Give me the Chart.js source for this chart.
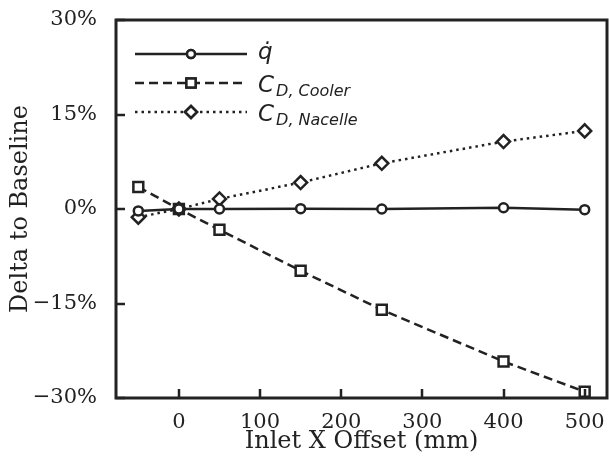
<!DOCTYPE html>
<html>
<head>
<meta charset="utf-8">
<script src="https://cdn.jsdelivr.net/npm/chart.js@4.4.0/dist/chart.umd.min.js"></script>
<style>
  html, body { margin: 0; padding: 0; background: #fff; }
</style>
</head>
<body>
<canvas id="chart" width="609" height="456"></canvas>
<script>
// inlet x offset (mm)
const offsets = [-50, 0, 50, 150, 250, 400, 500];

// delta to baseline (%)
const qDot = [-0.3, 0, 0, 0.05, 0, 0.2, -0.1];
const cdCooler = [3.5, 0, -3.3, -9.8, -16.0, -24.2, -29.0];
const cdNacelle = [-1.3, 0, 1.6, 4.2, 7.25, 10.7, 12.4];

const xTicks = [0, 100, 200, 300, 400, 500];
const yTicks = [-30, -15, 0, 15, 30];

const ink = "#222";
const serif = "'DejaVu Serif', serif";

function series(label, sub, values, dash, style, radius) {
  return {
    label: label,
    sub: sub,
    data: offsets.map((x, i) => ({ x: x, y: values[i] })),
    borderColor: ink,
    borderWidth: 2.5,
    borderDash: dash,
    pointStyle: style,
    pointRadius: radius,
    pointBorderWidth: 2.5,
    pointBorderColor: ink,
    pointBackgroundColor: "#fff",
    tension: 0
  };
}

// frame + inward ticks, matplotlib style
const framePlugin = {
  id: "frame",
  afterDraw(chart) {
    const ctx = chart.ctx;
    const a = chart.chartArea;
    const xs = chart.scales.x;
    const ys = chart.scales.y;
    ctx.save();
    ctx.strokeStyle = ink;
    ctx.lineWidth = 2.5;
    ctx.beginPath();
    xTicks.forEach(v => {
      const px = Math.round(xs.getPixelForValue(v));
      ctx.moveTo(px, a.bottom);
      ctx.lineTo(px, a.bottom - 9);
    });
    yTicks.forEach(v => {
      const py = Math.round(ys.getPixelForValue(v));
      ctx.moveTo(a.left, py);
      ctx.lineTo(a.left + 9, py);
    });
    ctx.stroke();
    ctx.lineWidth = 3;
    ctx.strokeRect(a.left, a.top, a.right - a.left, a.bottom - a.top);
    ctx.restore();
  }
};

// legend with subscripts
const legendPlugin = {
  id: "mathLegend",
  afterDraw(chart) {
    const ctx = chart.ctx;
    const a = chart.chartArea;
    const rows = [34, 63, 92];
    chart.data.datasets.forEach((ds, i) => {
      const y = a.top + rows[i];
      const x0 = a.left + 19, x1 = a.left + 131;
      ctx.save();
      ctx.strokeStyle = ink;
      ctx.lineWidth = ds.borderWidth;
      ctx.setLineDash(ds.borderDash);
      ctx.beginPath();
      ctx.moveTo(x0, y);
      ctx.lineTo(x1, y);
      ctx.stroke();
      ctx.setLineDash([]);
      ctx.fillStyle = "#fff";
      Chart.helpers.drawPoint(ctx, {
        pointStyle: ds.pointStyle, radius: ds.pointRadius - 0.5,
        borderWidth: ds.pointBorderWidth, rotation: 0
      }, (x0 + x1) / 2, y);
      ctx.fill();
      ctx.stroke();
      ctx.fillStyle = ink;
      ctx.textBaseline = "alphabetic";
      ctx.font = "italic 23px 'DejaVu Sans'";
      const tx = a.left + 142;
      if (ds.sub) {
        ctx.fillText(ds.label, tx, y + 9);
        const w = ctx.measureText(ds.label).width;
        ctx.font = "italic 16px 'DejaVu Sans'";
        ctx.fillText(ds.sub, tx + w + 2, y + 13);
      } else {
        ctx.fillText(ds.label, tx, y + 5);
      }
      ctx.restore();
    });
  }
};

new Chart(document.getElementById("chart"), {
  type: "line",
  data: {
    datasets: [
      series("q\u0307", "", qDot, [], "circle", 4.5),
      series("C", "D, Cooler", cdCooler, [9, 5], "rect", 7),
      series("C", "D, Nacelle", cdNacelle, [2.5, 4], "rectRot", 6.5)
    ]
  },
  options: {
    responsive: false,
    animation: false,
    layout: { autoPadding: false, padding: { top: 20, right: 2, left: 0, bottom: 0 } },
    plugins: { legend: { display: false }, tooltip: { enabled: false } },
    scales: {
      x: {
        type: "linear",
        min: -77.5,
        max: 527.5,
        afterBuildTicks: s => { s.ticks = xTicks.map(v => ({ value: v })); },
        afterFit: s => { s.height = 58; s.paddingLeft = 0; s.paddingRight = 0; },
        grid: { display: false },
        border: { display: false },
        ticks: { color: ink, font: { family: serif, size: 21 }, padding: 4, maxRotation: 0 },
        title: { display: true, text: "Inlet X Offset (mm)", color: ink,
                 font: { family: serif, size: 24 }, padding: { top: 0, bottom: 0 } }
      },
      y: {
        min: -30,
        max: 30,
        afterBuildTicks: s => { s.ticks = yTicks.map(v => ({ value: v })); },
        afterFit: s => { s.width = 116; s.paddingTop = 0; s.paddingBottom = 0; },
        grid: { display: false },
        border: { display: false },
        ticks: { color: ink, font: { family: serif, size: 21 }, padding: 11,
                 callback: v => (v < 0 ? "\u2212" + Math.abs(v) : v) + "%" },
        title: { display: true, text: "Delta to Baseline", color: ink,
                 font: { family: serif, size: 24 }, padding: { top: 6, bottom: 0 } }
      }
    }
  },
  plugins: [framePlugin, legendPlugin]
});
</script>
</body>
</html>
